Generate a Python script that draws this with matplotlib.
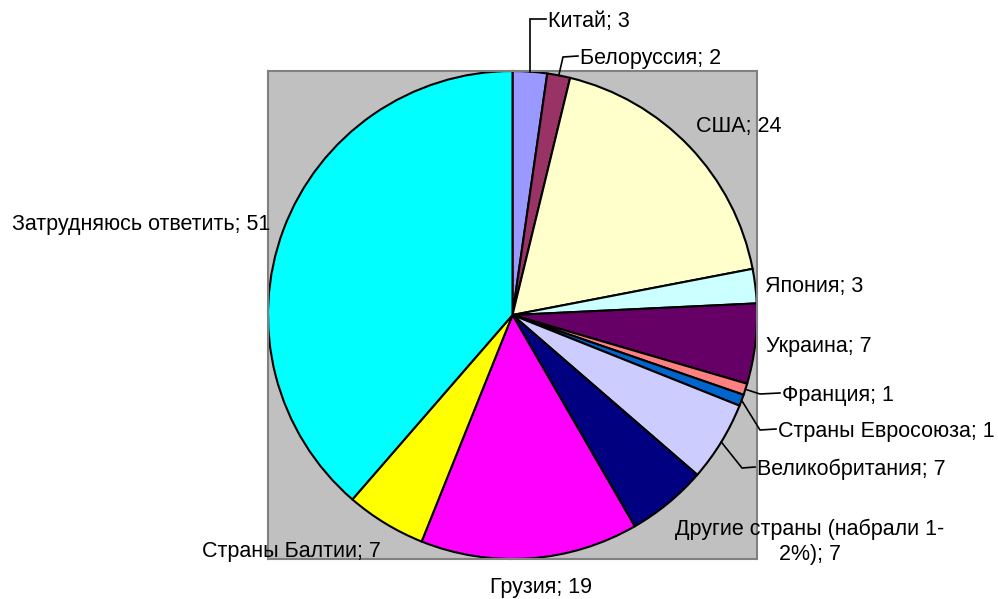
import matplotlib.pyplot as plt
import numpy as np

# ------------------------
# Data
# ------------------------
countries = [
    "Китай", "Белоруссия", "США", "Япония", "Украина", "Франция",
    "Страны Евросоюза", "Великобритания", "Другие страны (набрали 1-\n2%)",
    "Грузия", "Страны Балтии", "Затрудняюсь ответить",
]
counts = [3, 2, 24, 3, 7, 1, 1, 7, 7, 19, 7, 51]
colors = [
    "#9999FF", "#993366", "#FFFFCC", "#CCFFFF", "#660066", "#FF8080",
    "#0066CC", "#CCCCFF", "#000080", "#FF00FF", "#FFFF00", "#00FFFF",
]

# label placement in image pixels: (x, baseline y of last line, ha, leader elbow or None)
label_pos = [
    (548, 27, "left", "up"),
    (580, 64, "left", (563, 57)),
    (696, 132, "left", None),
    (765, 292, "left", None),
    (766, 352, "left", None),
    (782, 401, "left", (760, 394)),
    (778, 437, "left", (760, 430)),
    (757, 475, "left", (742, 468)),
    (810, 560, "center", None),
    (541, 593, "center", None),
    (202, 557, "left", None),
    (12, 230, "left", None),
]

plt.rcParams['font.family'] = ['Liberation Sans', 'DejaVu Sans']

W, H = 998, 599
fig = plt.figure(figsize=(W / 100, H / 100), dpi=100)
left, right, top, bottom = 268, 757, 71, 559
ax = fig.add_axes([left / W, 1 - bottom / H, (right - left) / W, (bottom - top) / H])

ax.pie(counts, colors=colors, startangle=90, counterclock=False, radius=1,
       frame=True, wedgeprops=dict(edgecolor="black", linewidth=1.5))
ax.set_xlim(-1, 1)
ax.set_ylim(-1, 1)
ax.set_aspect("auto")
ax.set_facecolor("#C0C0C0")
ax.set_xticks([])
ax.set_yticks([])
for sp in ax.spines.values():
    sp.set_color("#808080")
    sp.set_linewidth(1.5)

cx, cy = (left + right) / 2, (top + bottom) / 2
rx, ry = (right - left) / 2, (bottom - top) / 2


def to_data(px, py):
    return (px - cx) / rx, (cy - py) / ry


total = sum(counts)
cum = np.cumsum([0] + counts)
for i, name in enumerate(countries):
    px, py, ha, elbow = label_pos[i]
    tx, ty = to_data(px, py)
    ax.text(tx, ty, f"{name}; {counts[i]}", ha=ha, va="baseline", fontsize=15.5,
            multialignment="center", linespacing=1.25, clip_on=False, zorder=5)
    if elbow is None:
        continue
    mid = (cum[i] + counts[i] / 2) / total * 2 * np.pi
    ex, ey = np.sin(mid), np.cos(mid)
    _, ly = to_data(px, py - 8)
    if elbow == "up":
        bx, by = ex, ly
    else:
        bx, by = to_data(*elbow)
    endx, _ = to_data(px - 2, py)
    ax.plot([ex, bx, endx], [ey, by, ly], color="black", linewidth=1.2,
            clip_on=False, zorder=4, solid_joinstyle="miter")

fig.savefig("out.png", dpi=100)
